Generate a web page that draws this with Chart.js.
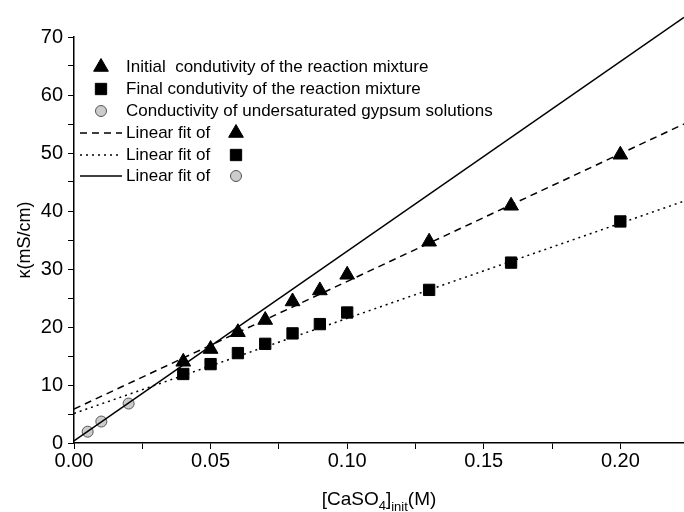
<!DOCTYPE html>
<html>
<head>
<meta charset="utf-8">
<script src="https://cdn.jsdelivr.net/npm/chart.js@4"></script>
<style>
  body { margin: 0; background: #fff; }
</style>
</head>
<body>
<canvas id="plot1" width="684" height="512"></canvas>
<script>
// Concentraciones iniciales (M)
let concMezcla = [0.04, 0.05, 0.06, 0.07, 0.08, 0.09, 0.10, 0.13, 0.16, 0.20]
// Conductividad inicial y final de la mezcla (mS/cm)
let kInicial = [14.0, 16.2, 19.1, 21.2, 24.4, 26.3, 29.0, 34.7, 40.9, 49.7]
let kFinal = [11.9, 13.6, 15.5, 17.1, 18.9, 20.5, 22.5, 26.4, 31.1, 38.2]
// Soluciones de yeso subsaturadas
let concYeso = [0.005, 0.01, 0.02]
let kYeso = [1.95, 3.7, 6.8]
// Extremos de los ajustes lineales
let ajusteX = [0, 0.2233]
let ajusteInicial = [5.85, 55.0]
let ajusteFinal = [5.1, 41.7]
let ajusteYeso = [0.35, 73.4]

let etiquetas = [
  'Initial  condutivity of the reaction mixture',
  'Final condutivity of the reaction mixture',
  'Conductivity of undersaturated gypsum solutions',
  'Linear fit of'
]

let fuente = "'Liberation Sans', Arial, sans-serif"
let aPuntos = (xs, ys) => xs.map((x, i) => ({x: x, y: ys[i]}))

// Dibuja la leyenda y los títulos de los ejes
let extras = {
  id: 'extras',
  afterDraw: (chart) => {
    let ctx = chart.ctx
    let ds = chart.data.datasets
    let simbolo = (d, x, y) => {
      ctx.save()
      ctx.fillStyle = d.backgroundColor
      ctx.strokeStyle = d.borderColor
      ctx.lineWidth = d.borderWidth
      Chart.helpers.drawPoint(ctx, {pointStyle: d.pointStyle, radius: d.pointRadius, rotation: 0, borderWidth: d.borderWidth}, x, y)
      ctx.restore()
    }
    let filas = [67, 89, 111, 133, 155, 176]
    ctx.save()
    ctx.font = '17px ' + fuente
    ctx.fillStyle = '#000'
    ctx.textBaseline = 'middle'
    for (let i = 0; i < 3; i++) {
      simbolo(ds[i === 2 ? 5 : i], 101, filas[i])
      ctx.fillText(etiquetas[i], 126, filas[i])
    }
    let lineas = [ds[3], ds[4], ds[2]]
    let marcas = [ds[0], ds[1], ds[5]]
    for (let i = 0; i < 3; i++) {
      let f = filas[i + 3]
      ctx.save()
      ctx.strokeStyle = '#000'
      ctx.lineWidth = lineas[i].borderWidth
      ctx.setLineDash(lineas[i].borderDash || [])
      ctx.beginPath()
      ctx.moveTo(80, f)
      ctx.lineTo(122, f)
      ctx.stroke()
      ctx.restore()
      ctx.fillText(etiquetas[3], 126, f)
      simbolo(marcas[i], 236, f)
    }

    // Título eje y
    let area = chart.chartArea
    ctx.save()
    ctx.translate(25, (area.top + area.bottom) / 2)
    ctx.rotate(-Math.PI / 2)
    ctx.textAlign = 'center'
    ctx.textBaseline = 'middle'
    ctx.font = '18px ' + fuente
    ctx.fillText('κ(mS/cm)', 0, 0)
    ctx.restore()

    // Título eje x con subíndices
    let partes = [['[CaSO', 19, 0], ['4', 13, 5], [']', 19, 0], ['init', 13, 6], ['(M)', 19, 0]]
    let ancho = 0
    partes.forEach(p => { ctx.font = p[1] + 'px ' + fuente; ancho += ctx.measureText(p[0]).width })
    let x = (area.left + area.right) / 2 - ancho / 2
    ctx.textBaseline = 'alphabetic'
    partes.forEach(p => {
      ctx.font = p[1] + 'px ' + fuente
      ctx.fillText(p[0], x, 505 + p[2])
      x += ctx.measureText(p[0]).width
    })
    ctx.restore()
  }
}

let plotRef = document.getElementById('plot1')

let config = {
  type: 'scatter',
  data: {
    datasets: [
      {
        label: etiquetas[0],
        data: aPuntos(concMezcla, kInicial),
        pointStyle: 'triangle', pointRadius: 8.5,
        backgroundColor: '#000', borderColor: '#000', borderWidth: 1
      },
      {
        label: etiquetas[1],
        data: aPuntos(concMezcla, kFinal),
        pointStyle: 'rect', pointRadius: 8,
        backgroundColor: '#000', borderColor: '#000', borderWidth: 1
      },
      {
        label: 'fit gypsum',
        data: aPuntos(ajusteX, ajusteYeso),
        showLine: true, pointRadius: 0, borderColor: '#000', borderWidth: 1.5,
        clip: false
      },
      {
        label: 'fit initial',
        data: aPuntos(ajusteX, ajusteInicial),
        showLine: true, pointRadius: 0, borderColor: '#000', borderWidth: 1.5,
        borderDash: [7, 5]
      },
      {
        label: 'fit final',
        data: aPuntos(ajusteX, ajusteFinal),
        showLine: true, pointRadius: 0, borderColor: '#000', borderWidth: 1.5,
        borderDash: [2, 4]
      },
      {
        label: etiquetas[2],
        data: aPuntos(concYeso, kYeso),
        pointStyle: 'circle', pointRadius: 5.5,
        backgroundColor: '#cccccc', borderColor: '#555', borderWidth: 1
      }
    ]
  },
  options: {
    responsive: false,
    animation: false,
    layout: { autoPadding: false, padding: { top: 37, right: 0, left: 0, bottom: 0 } },
    plugins: { legend: { display: false }, tooltip: { enabled: false } },
    scales: {
      x: {
        type: 'linear', min: 0, max: 0.2233,
        border: { color: '#000', width: 1.5 },
        grid: { drawOnChartArea: false, color: '#000', tickLength: 6 },
        ticks: {
          stepSize: 0.025, includeBounds: false, autoSkip: false, maxRotation: 0,
          color: '#000', padding: 0, font: { family: fuente, size: 20 },
          callback: (v) => Math.round(v * 1000) % 50 === 0 ? v.toFixed(2) : ''
        },
        afterFit: (s) => { s.height = 69; s.paddingRight = 0; s.paddingLeft = 0 }
      },
      y: {
        min: 0, max: 70,
        border: { color: '#000', width: 1.5 },
        grid: { drawOnChartArea: false, color: '#000', tickLength: 6 },
        ticks: {
          stepSize: 5, autoSkip: false, color: '#000', padding: 5,
          font: { family: fuente, size: 20 },
          callback: (v) => v % 10 === 0 ? v : ''
        },
        afterFit: (s) => { s.width = 74; s.paddingTop = 0; s.paddingBottom = 0 }
      }
    }
  },
  plugins: [extras]
}

let chart1 = new Chart(plotRef, config)
</script>
</body>
</html>
